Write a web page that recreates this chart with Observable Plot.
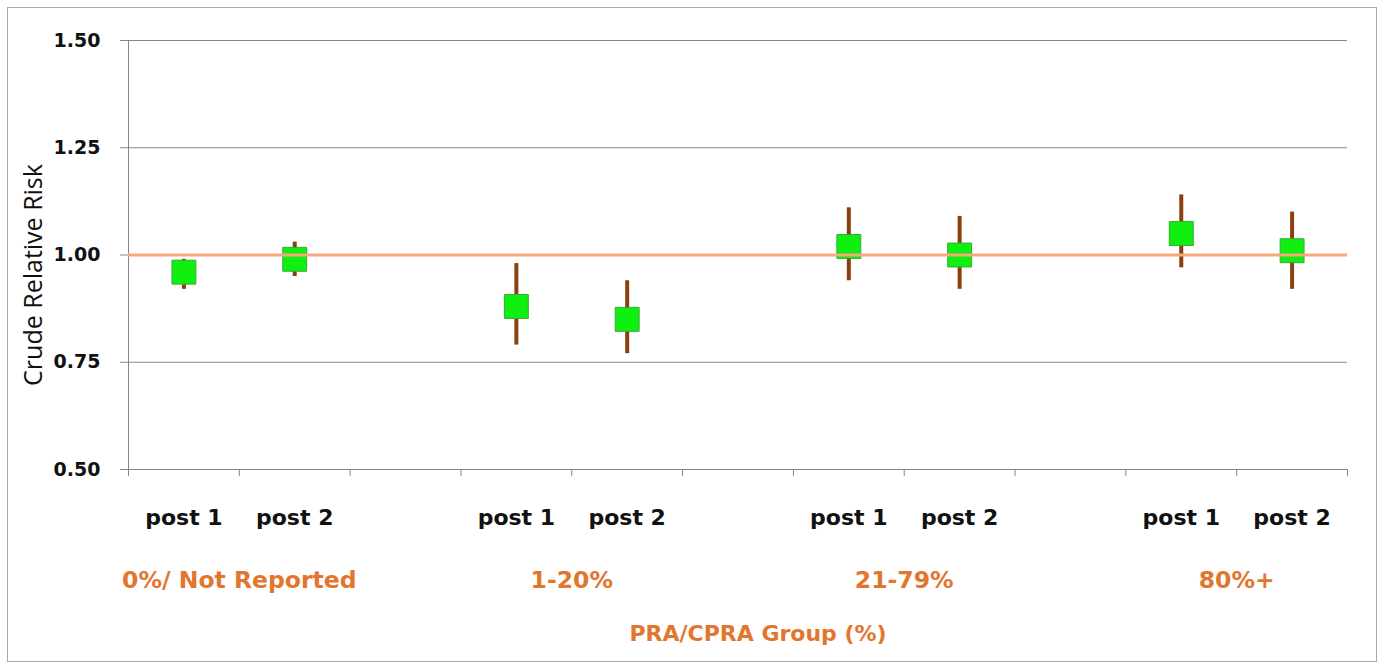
<!DOCTYPE html>
<html>
<head>
<meta charset="utf-8">
<script src="https://cdn.jsdelivr.net/npm/d3@7"></script>
<script src="https://cdn.jsdelivr.net/npm/@observablehq/plot@0.6"></script>
<style>
  html, body { margin: 0; padding: 0; background: #fff; }
  #wrap { position: relative; width: 1380px; height: 666px; }
  #outline { position: absolute; left: 7px; top: 7px; width: 1370px; height: 655px;
             border: 1px solid #a8a8a8; box-sizing: border-box; pointer-events: none; }
  #wrap svg { position: absolute; left: 0; top: 0; }
</style>
</head>
<body>
<div id="wrap"><div id="outline"></div></div>
<script>
// PRA/CPRA groups and the two post periods within each
const groups = ["0%/ Not Reported", "1-20%", "21-79%", "80%+"];
const periods = ["post 1", "post 2"];

// Crude relative risk with its confidence interval, in group/period order
const relativeRisk = [0.96, 0.99, 0.88, 0.85, 1.02, 1.00, 1.05, 1.01];
const ciLower      = [0.92, 0.95, 0.79, 0.77, 0.94, 0.92, 0.97, 0.92];
const ciUpper      = [0.99, 1.03, 0.98, 0.94, 1.11, 1.09, 1.14, 1.10];

const yTicks = [0.50, 0.75, 1.00, 1.25, 1.50];
const yGrid = [0.75, 1.25, 1.50];
const reference = 1.00;

// Each group takes two category slots followed by an empty spacer slot
const slotsPerGroup = periods.length + 1;
const nSlots = groups.length * slotsPerGroup - 1;
const rows = relativeRisk.map((rr, i) => {
  const g = Math.floor(i / periods.length), p = i % periods.length;
  return { group: groups[g], period: periods[p], slot: g * slotsPerGroup + p + 0.5,
           rr, lo: ciLower[i], hi: ciUpper[i] };
});
const groupLabels = groups.map((g, i) => ({ group: g, slot: i * slotsPerGroup + periods.length / 2 }));
const slotEdges = d3.range(0, nSlots + 1);

const labelFont = "'DejaVu Sans', sans-serif";
const titleFont = "'Open Sans', sans-serif";
const axisGray = "#858585";
const orange = "#e2762e";

const chart = Plot.plot({
  width: 1380,
  height: 666,
  marginLeft: 128,
  marginRight: 33,
  marginTop: 40,
  marginBottom: 197,
  style: { fontFamily: labelFont, background: "transparent" },
  x: { domain: [0, nSlots], axis: null },
  y: { domain: [0.5, 1.5], axis: null },
  marks: [
    Plot.gridY(yGrid, { stroke: axisGray, strokeOpacity: 1 }),
    Plot.ruleX([0], { stroke: axisGray }),
    Plot.ruleY([0.5], { stroke: axisGray }),
    Plot.axisY({
      ticks: yTicks, tickFormat: d3.format(".2f"), tickSize: 8, tickPadding: 20,
      stroke: axisGray, fill: "#111", fontSize: 19, fontWeight: "bold", label: null
    }),
    Plot.axisX({ ticks: slotEdges, tickSize: 7, tickFormat: () => "", stroke: axisGray, label: null }),
    Plot.text(rows, {
      x: "slot", text: "period", frameAnchor: "bottom", dy: 55,
      fontSize: 22, fontWeight: "bold", fill: "#111"
    }),
    Plot.ruleX(rows, { x: "slot", y1: "lo", y2: "hi", stroke: "#8b3f0f", strokeWidth: 4 }),
    Plot.dot(rows, {
      x: "slot", y: "rr", symbol: "square", r: 13.5,
      fill: "#10f010", stroke: "#3aa83a", strokeWidth: 1
    }),
    Plot.ruleY([reference], { stroke: "#f6aa7c", strokeWidth: 3 }),
    Plot.text(groupLabels, {
      x: "slot", text: "group", frameAnchor: "bottom", dy: 118,
      fontSize: 23.5, fontWeight: "bold", fill: orange
    }),
    Plot.text(["PRA/CPRA Group (%)"], {
      frameAnchor: "bottom", dx: 20, dy: 171,
      fontSize: 22, fontWeight: "bold", fill: orange
    }),
    Plot.text(["Crude Relative Risk"], {
      frameAnchor: "left", textAnchor: "middle", dx: -95, dy: 20, rotate: -90,
      fontSize: 25, fontFamily: titleFont, fill: "#111"
    })
  ]
});

document.getElementById("wrap").prepend(chart);
</script>
</body>
</html>
